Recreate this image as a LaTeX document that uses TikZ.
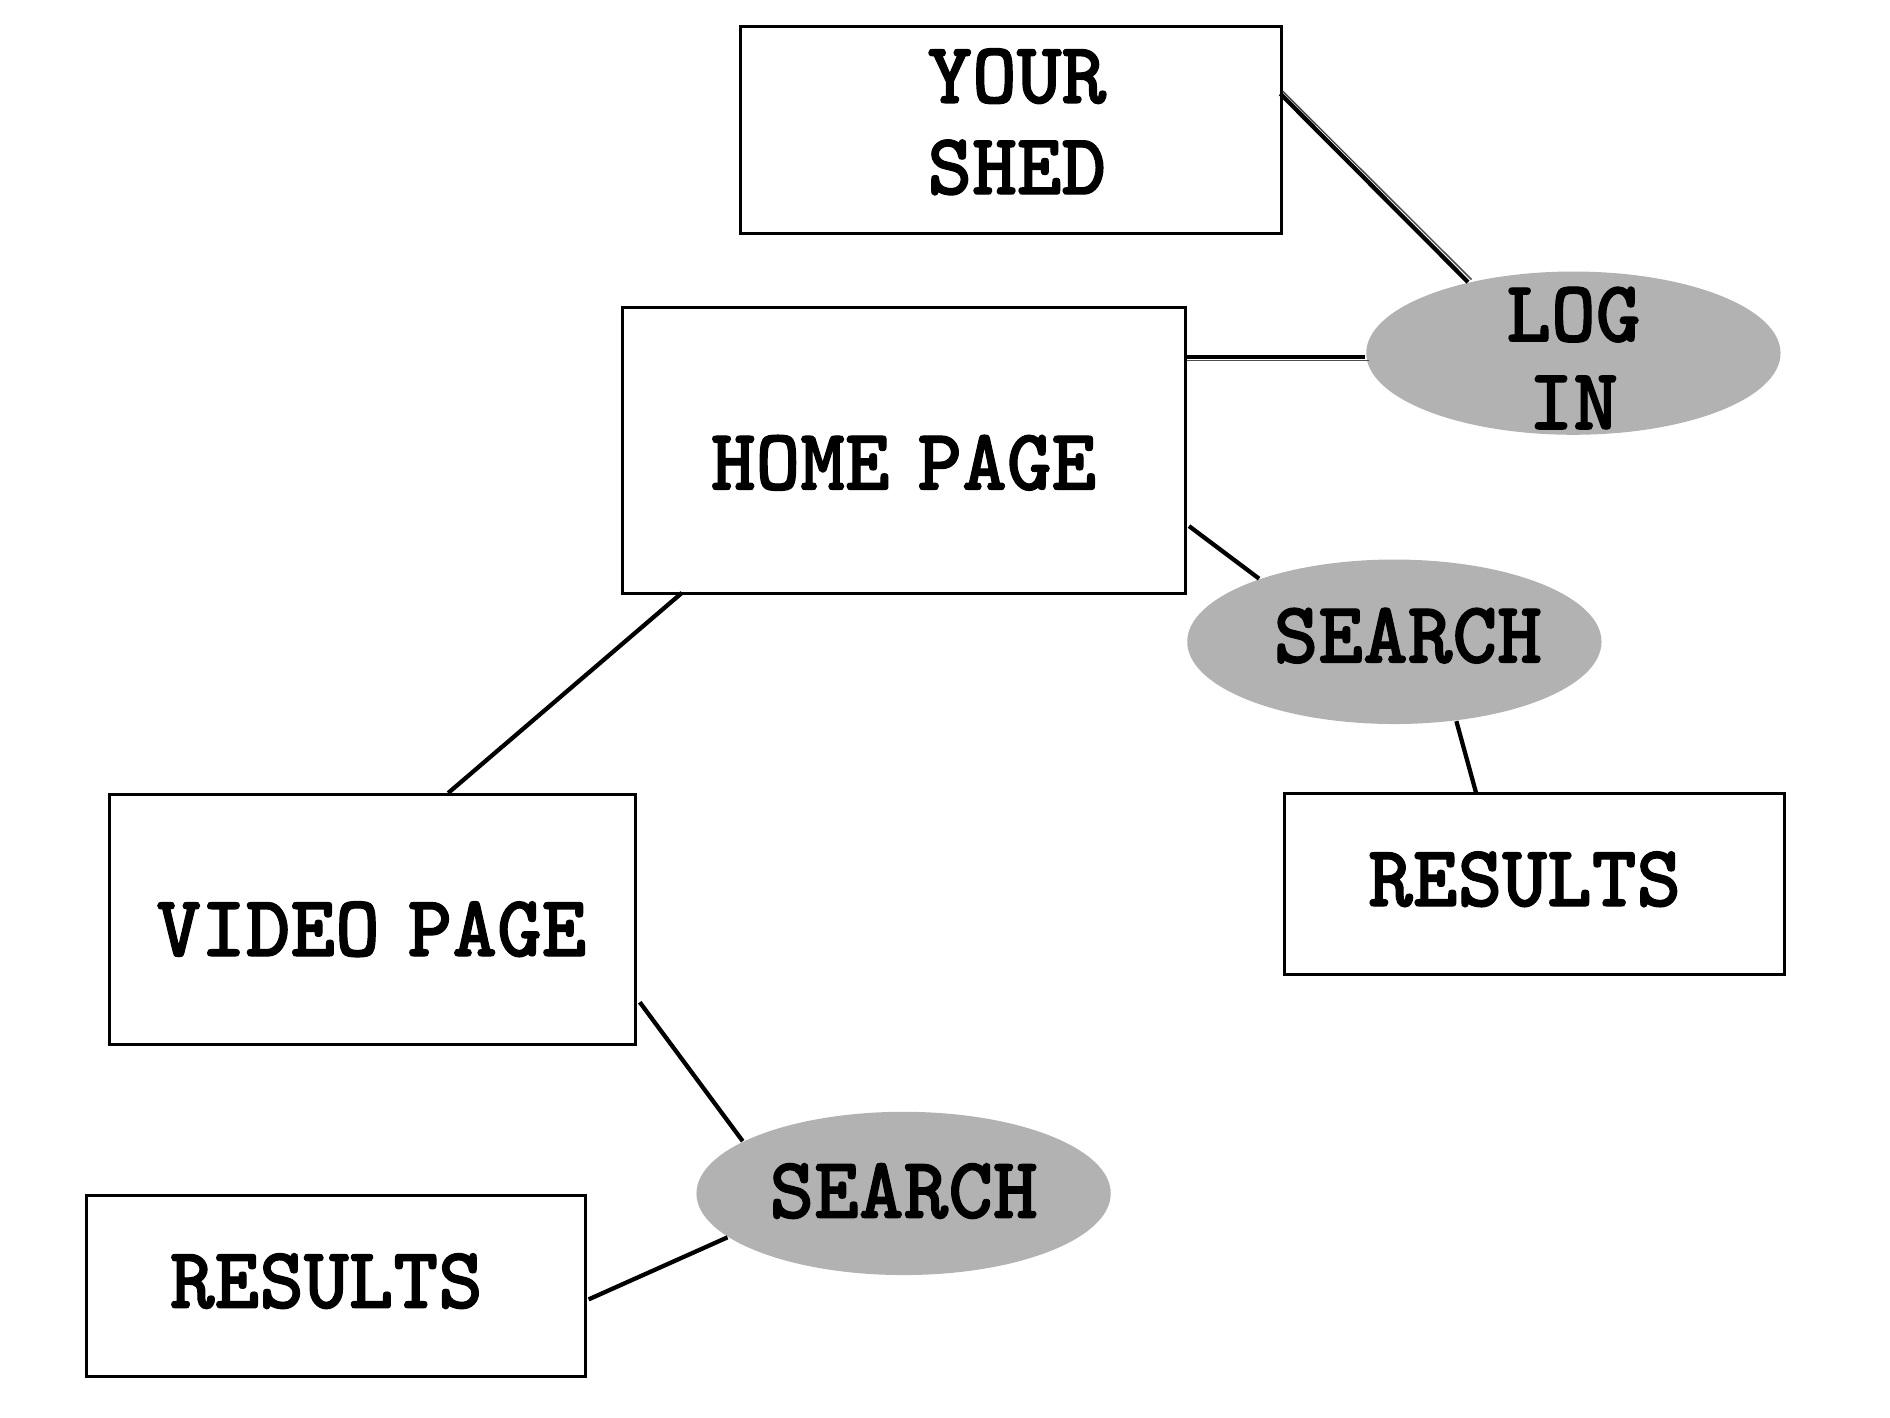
\documentclass[tikz,border=0pt]{standalone}
\usepackage{fontspec}
\newfontfamily\tw[FakeStretch=0.97,FakeBold=1.2,WordSpace=0.62]{lmmonolt10-bold.otf}
\usetikzlibrary{shapes.geometric,calc}
\tikzset{
  box/.style={draw=black, line width=0.7pt, rectangle, inner sep=0pt},
  oval/.style={ellipse, fill=black!30, draw=none, inner sep=0pt,
    minimum width=3.4cm, minimum height=1.34cm},
  txt/.style={inner sep=0pt, align=center, font=\tw\fontsize{20.5}{21}\selectfont},
  conn/.style={draw=black, line width=1pt},
  thin/.style={draw=black!70, line width=0.35pt}
}
\begin{document}
\begin{tikzpicture}[x=0.01cm,y=-0.01cm]
\useasboundingbox (0,0) rectangle (1552,1164);
% boxes
\node[box, minimum width=4.44cm, minimum height=1.70cm] (shed) at (830,107) {};
\node[box, minimum width=4.62cm, minimum height=2.35cm] (home) at (742,370) {};
\node[box, minimum width=4.10cm, minimum height=1.48cm] (res1) at (1260,726) {};
\node[box, minimum width=4.32cm, minimum height=2.05cm] (video) at (306,755) {};
\node[box, minimum width=4.10cm, minimum height=1.48cm] (res2) at (276,1056) {};
% ovals
\node[oval] (login) at (1292,290) {};
\node[oval, minimum height=1.35cm] (search1) at (1145,527) {};
\node[oval] (search2) at (742,980) {};
% texts
\node[txt, font=\tw\fontsize{20.5}{21.3}\selectfont] (shedt) at (835,100) {YOUR\\SHED};
\node[txt] (homet) at (742,380) {HOME PAGE};
\node[txt] (res1t) at (1252,722) {RESULTS};
\node[txt] (videot) at (305,763) {VIDEO PAGE};
\node[txt] (res2t) at (268,1052) {RESULTS};
\node[txt, font=\tw\fontsize{20.5}{20.5}\selectfont] (logint) at (1292,294) {LOG\\IN};
\node[txt] (search1t) at (1156,522) {SEARCH};
\node[txt] (search2t) at (742,978) {SEARCH};
% connectors
\coordinate (s1) at ($(shed.east)+(-2,-30)$);
\draw[conn] (s1) -- (login.146);
\draw[thin] ($(s1)+(2,-2)$) -- ($(login.146)+(3,-2)$);
\coordinate (h1) at ($(home.east)+(0,-77)$);
\draw[conn] (h1) -- (h1 -| login.west);
\draw[thin] ($(h1)+(0,3)$) -- ($(h1 -| login.west)+(3,3)$);
\draw[conn] ($(home.east)+(2,62)$) -- (search1.155);
\draw[conn] (search1.-52) -- ($(res1.north)+(-48,0)$);
\draw[conn] ($(home.south)+(-182,-2)$) -- ($(video.north)+(62,0)$);
\draw[conn] ($(video.east)+(2,68)$) -- (search2.162.5);
\draw[conn] (search2.194) -- ($(res2.east)+(1,11)$);
\end{tikzpicture}
\end{document}
